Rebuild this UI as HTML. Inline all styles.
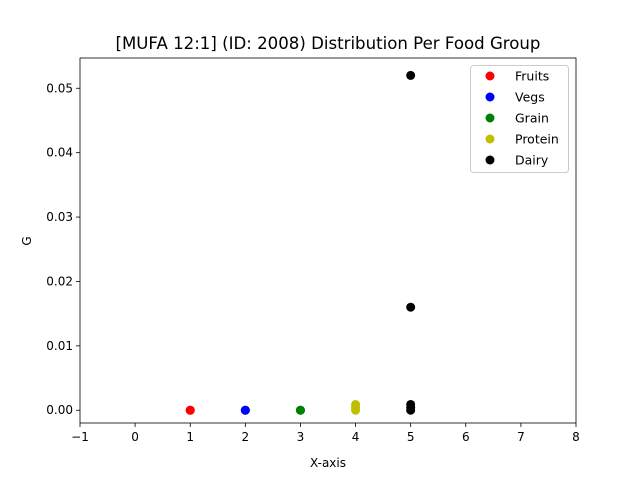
<!DOCTYPE html>
<html><head><meta charset="utf-8"><style>
body{margin:0;background:#fff;}
svg text{font-family:"DejaVu Sans","Liberation Sans",sans-serif;}
</style></head><body>
<svg id="chart" width="640" height="480"></svg>
<script>
const groups=["Fruits","Vegs","Grain","Protein","Dairy"];
const colors=["#ff0000","#0000ff","#008000","#bfbf00","#000000"];
const xPositions=[1,2,3,4,5];
const fruitsVals=[0,0,0];
const vegsVals=[0,0,0];
const grainVals=[0,0,0];
const proteinVals=[0,0.0004,0.0009];
const dairyVals=[0,0.0004,0.0009,0.016,0.052];
const xTicks=[-1,0,1,2,3,4,5,6,7,8];
const yTicks=[0,0.01,0.02,0.03,0.04,0.05];
const yTickLabels=["0.00","0.01","0.02","0.03","0.04","0.05"];

const NS="http://www.w3.org/2000/svg";
const svg=document.getElementById('chart');
const L=80,R=576,T=58,B=423;
const xMin=-1,xMax=8,yMin=-0.00198,yMax=0.0547;
const xs=v=>L+(v-xMin)/(xMax-xMin)*(R-L);
const ys=v=>B-(v-yMin)/(yMax-yMin)*(B-T);
function mk(tag,attrs,txt){const e=document.createElementNS(NS,tag);for(const k in attrs)e.setAttribute(k,attrs[k]);if(txt!==undefined)e.textContent=txt;svg.appendChild(e);return e;}

let e=mk('text',{x:328,y:49,'text-anchor':'middle','font-size':16.6},'[MUFA 12:1] (ID: 2008) Distribution Per Food Group');



xTicks.forEach(t=>{
  let l=mk('line',{x1:xs(t),x2:xs(t),y1:B,y2:B+4,stroke:'#000','stroke-width':0.8});
  
  
  let tx=mk('text',{x:xs(t),y:B+18,'text-anchor':'middle','font-size':12},t<0?'\u2212'+(-t):String(t));
  
  
});
yTicks.forEach((t,i)=>{
  let l=mk('line',{x1:L-4,x2:L,y1:ys(t),y2:ys(t),stroke:'#000','stroke-width':0.8});
  
  
  let tx=mk('text',{x:L-7,y:ys(t)+4,'text-anchor':'end','font-size':12},yTickLabels[i]);
  
  
});
e=mk('text',{x:328,y:467,'text-anchor':'middle','font-size':12},'X-axis');


e=mk('text',{x:31,y:241,'text-anchor':'middle','font-size':12,transform:'rotate(-90 31 241)'},'G');



const series=[fruitsVals,vegsVals,grainVals,proteinVals,dairyVals];
series.forEach((vals,gi)=>{
  vals.forEach(v=>{
    let c=mk('circle',{cx:xs(xPositions[gi]),cy:ys(v),r:4.5,fill:colors[gi]});
    
    
  });
});

e=mk('rect',{x:L,y:T,width:R-L,height:B-T,fill:'none',stroke:'#000','stroke-width':0.8});



e=mk('rect',{x:470.5,y:65.5,width:98,height:107,fill:'#fff',stroke:'#ccc',rx:3});


groups.forEach((g,i)=>{
  const y=76+i*21;
  let c=mk('circle',{cx:490,cy:y,r:4.5,fill:colors[i]});
  
  
  let t=mk('text',{x:515,y:y+4.5,'font-size':12.5},g);
  
  
});
</script>
</body></html>
